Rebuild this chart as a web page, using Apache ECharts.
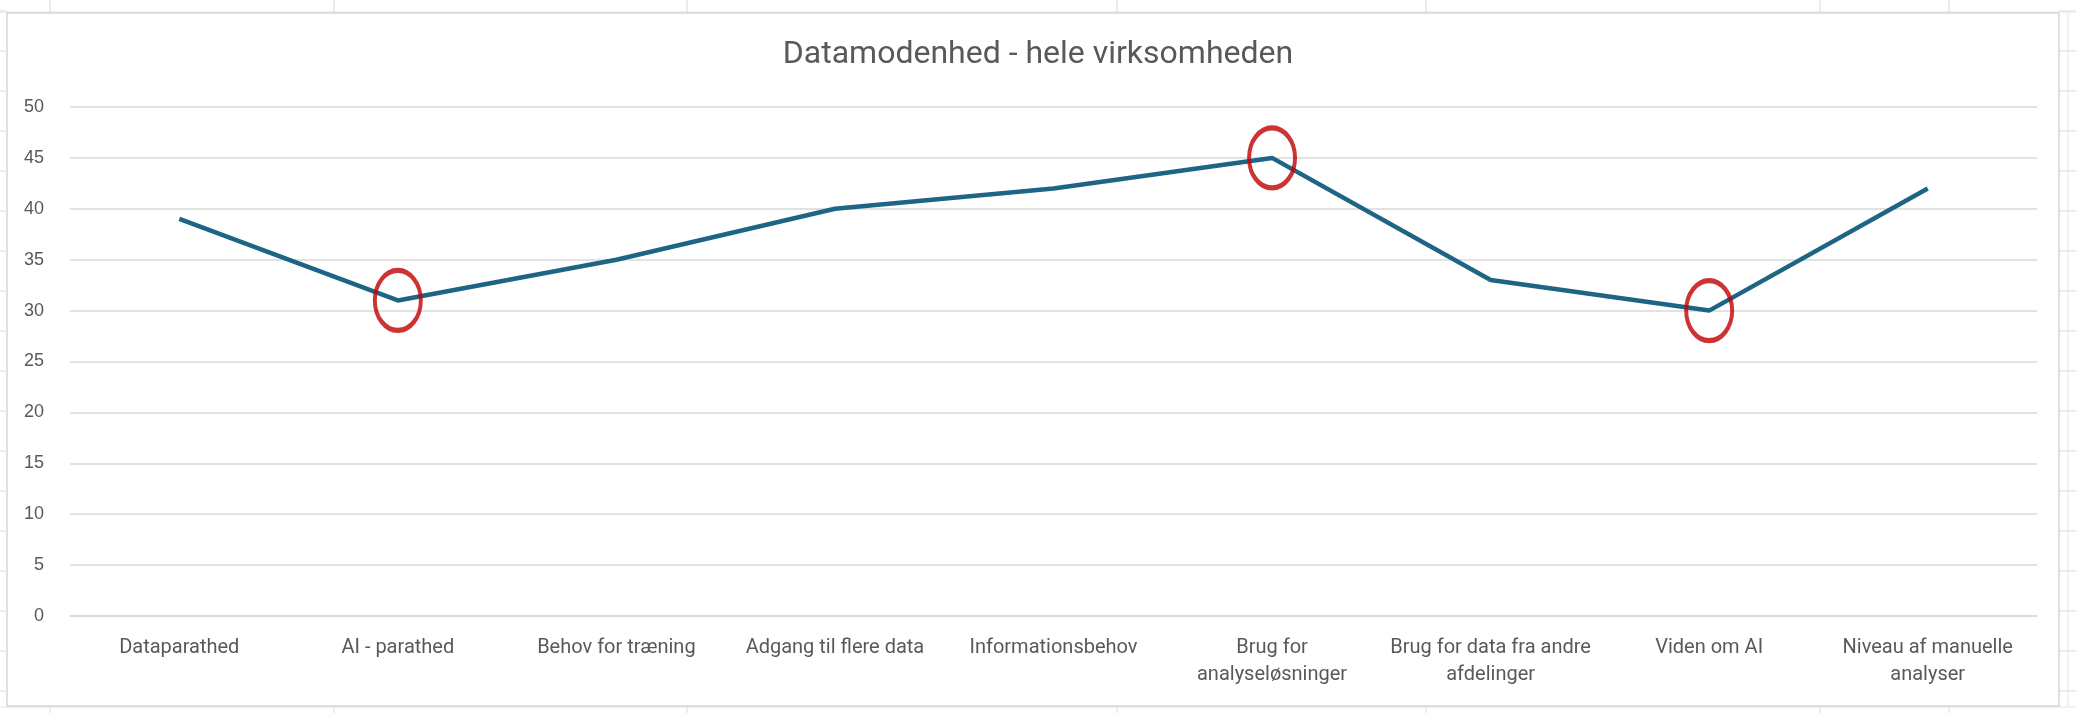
<!DOCTYPE html>
<html>
<head>
<meta charset="utf-8">
<script src="https://cdn.jsdelivr.net/npm/echarts@6/dist/echarts.min.js"></script>
<style>
  html, body { margin: 0; padding: 0; background: #fff; }
  #chart { width: 2076px; height: 713px; }
</style>
</head>
<body>
<div id="chart"></div>
<script>
// categories on the x axis (line breaks as in the original labels)
var categories = [
    'Dataparathed',
    'AI - parathed',
    'Behov for træning',
    'Adgang til flere data',
    'Informationsbehov',
    'Brug for\nanalyseløsninger',
    'Brug for data fra andre\nafdelinger',
    'Viden om AI',
    'Niveau af manuelle\nanalyser'
];
var values = [39, 31, 35, 40, 42, 45, 33, 30, 42];
// points circled in red
var circled = [1, 5, 7];
var yTicks = [0, 5, 10, 15, 20, 25, 30, 35, 40, 45, 50];

var myChart = echarts.init(document.getElementById('chart'));

// spreadsheet cell lines around the chart object
var cellCols = [50, 334, 687, 1117, 1426, 1820, 1949];
var cellRows = [11, 51, 91, 131, 171, 211, 251, 291, 331, 371, 411, 451, 491, 531, 571, 611, 651, 691];
var deco = [];
cellCols.forEach(function (x) {
    deco.push({ type: 'line', shape: { x1: x, y1: 0, x2: x, y2: 13 }, style: { stroke: '#dadada', lineWidth: 1 } });
    deco.push({ type: 'line', shape: { x1: x, y1: 706, x2: x, y2: 713 }, style: { stroke: '#dadada', lineWidth: 1 } });
});
cellRows.forEach(function (y) {
    deco.push({ type: 'line', shape: { x1: 0, y1: y, x2: 7, y2: y }, style: { stroke: '#dadada', lineWidth: 1 } });
    deco.push({ type: 'line', shape: { x1: 2059, y1: y, x2: 2076, y2: y }, style: { stroke: '#dadada', lineWidth: 1 } });
});
deco.push({ type: 'line', shape: { x1: 0, y1: 12, x2: 2076, y2: 12 }, style: { stroke: '#e4e4e4', lineWidth: 1 } });
deco.push({ type: 'line', shape: { x1: 0, y1: 707, x2: 2076, y2: 707 }, style: { stroke: '#e4e4e4', lineWidth: 1 } });
deco.push({ type: 'line', shape: { x1: 2068, y1: 13, x2: 2068, y2: 706 }, style: { stroke: '#e4e4e4', lineWidth: 1 } });
// chart frame
deco.push({
    type: 'rect',
    shape: { x: 7, y: 13, width: 2052, height: 693 },
    style: { fill: null, stroke: '#d6d6d6', lineWidth: 1.5 }
});

var option = {
    backgroundColor: '#fff',
    animation: false,
    graphic: deco,
    title: {
        text: 'Datamodenhed - hele virksomheden',
        left: 'center',
        top: 34,
        textStyle: {
            fontFamily: 'Roboto',
            fontSize: 32,
            fontWeight: 'normal',
            color: '#595959'
        }
    },
    grid: {
        left: 70,
        right: 39,
        top: 107,
        bottom: 97
    },
    xAxis: {
        type: 'category',
        data: categories,
        boundaryGap: true,
        axisLine: { lineStyle: { color: '#d9d9d9', width: 1.5 } },
        axisTick: { show: false },
        axisLabel: {
            interval: 0,
            margin: 18,
            fontFamily: 'Roboto',
            fontSize: 20,
            lineHeight: 27,
            color: '#595959'
        }
    },
    yAxis: {
        type: 'value',
        min: yTicks[0],
        max: yTicks[yTicks.length - 1],
        interval: 5,
        axisLine: { show: false },
        axisTick: { show: false },
        splitLine: { lineStyle: { color: '#d9d9d9', width: 1.5 } },
        axisLabel: {
            margin: 26,
            fontFamily: 'Liberation Sans',
            fontSize: 18,
            color: '#595959'
        }
    },
    series: [
        {
            name: 'Datamodenhed',
            type: 'line',
            data: values,
            showSymbol: false,
            symbol: 'none',
            lineStyle: { color: '#1e6585', width: 4.5 },
            z: 3
        },
        {
            name: 'Markeret',
            type: 'scatter',
            data: circled.map(function (i) { return [i, values[i]]; }),
            symbol: 'circle',
            symbolSize: [46, 60],
            itemStyle: {
                color: 'rgba(0,0,0,0)',
                borderColor: '#c00000',
                borderWidth: 4.5
            },
            z: 4
        }
    ]
};

myChart.setOption(option);
</script>
</body>
</html>
